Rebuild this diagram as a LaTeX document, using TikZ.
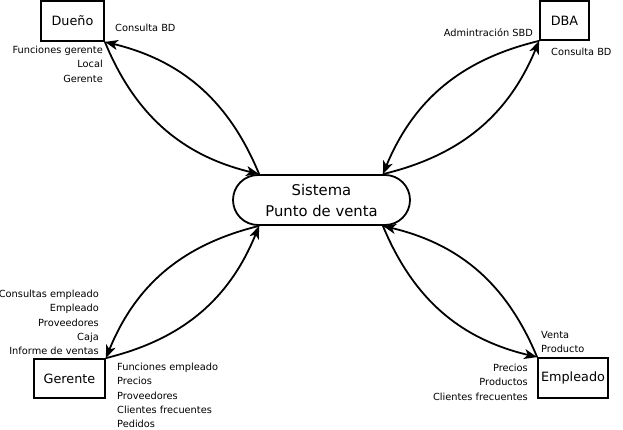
\documentclass[tikz,border=0pt]{standalone}
\usepackage{fontspec}
\setmainfont{DejaVu Sans}
\usetikzlibrary{arrows.meta,calc}
\begin{document}
\begin{tikzpicture}[x=1pt,y=-1pt,
  ent/.style={draw,line width=1.8pt,minimum height=40pt,inner sep=0pt,font=\fontsize{12.8}{15}\selectfont},
  lbl/.style={font=\fontsize{9.8}{14.2}\selectfont,inner sep=0pt},
  flow/.style={-{Stealth[length=13pt,width=10pt,inset=3.5pt]},line width=1.8pt,bend right=27}]
\useasboundingbox (0,0) rectangle (623,430);

\node[ent,minimum width=63pt] (due) at (72.5,21) {Dueño};
\node[ent,minimum width=49pt,minimum height=39pt] (dba) at (564.5,20.5) {DBA};
\node[ent,minimum width=71pt,minimum height=39pt] (ger) at (69.5,378.5) {Gerente};
\node[ent,minimum width=70pt] (emp) at (573,378) {Empleado};

\node[draw,line width=1.8pt,rounded corners=25pt,minimum width=177pt,minimum height=50pt,
  inner sep=0pt,align=center,font=\fontsize{14.8}{21}\selectfont] (sis) at (321.5,200) {Sistema\\Punto de venta};

\coordinate (stl) at ($(sis.north west)+(27,0)$);
\coordinate (str) at ($(sis.north east)+(-28,0)$);
\coordinate (sbl) at ($(sis.south west)+(27,0)$);
\coordinate (sbr) at ($(sis.south east)+(-28,0)$);

\draw[flow] (due.south east) to (stl);
\draw[flow] (stl) to (due.south east);
\draw[flow] (dba.south west) to (str);
\draw[flow] (str) to (dba.south west);
\draw[flow] (ger.north east) to (sbl);
\draw[flow] (sbl) to (ger.north east);
\draw[flow] (emp.north west) to (sbr);
\draw[flow] (sbr) to (emp.north west);

\node[lbl,anchor=west] (l1) at (115,28) {Consulta BD};
\node[lbl,anchor=north east,align=right] (l2) at (103,46) {Funciones gerente\\Local\\Gerente};
\node[lbl,anchor=east] (l3) at (533,33) {Admintración SBD};
\node[lbl,anchor=west] (l4) at (551,52) {Consulta BD};
\node[lbl,anchor=north east,align=right] (l5) at (99,290) {Consultas empleado\\Empleado\\Proveedores\\Caja\\Informe de ventas};
\node[lbl,anchor=north west,align=left] (l6) at (117,363) {Funciones empleado\\Precios\\Proveedores\\Clientes frecuentes\\Pedidos};
\node[lbl,anchor=north west,align=left] (l7) at (541,331) {Venta\\Producto};
\node[lbl,anchor=north east,align=right] (l8) at (528,364) {Precios\\Productos\\Clientes frecuentes};
\end{tikzpicture}
\end{document}
